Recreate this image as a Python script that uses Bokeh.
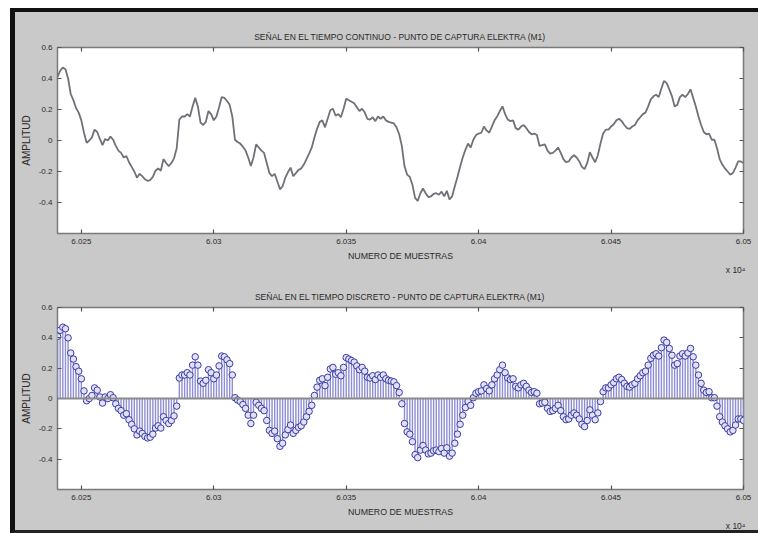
import numpy as np
from bokeh.plotting import figure
from bokeh.models import Range1d, FixedTicker, LinearAxis, Span, Title
from bokeh.layouts import column
from bokeh.embed import file_html
from bokeh.resources import INLINE

# ---------------- data ----------------
first_sample = 60241
amplitude = [
    0.41, 0.45, 0.47, 0.46, 0.40, 0.30, 0.26, 0.21, 0.18, 0.13,
    0.05, -0.015, 0.0, 0.02, 0.07, 0.055, 0.01, -0.03, 0.01, 0.0,
    0.025, 0.005, -0.035, -0.065, -0.08, -0.11, -0.10, -0.14, -0.17, -0.20,
    -0.24, -0.215, -0.23, -0.25, -0.26, -0.255, -0.235, -0.195, -0.18, -0.195,
    -0.12, -0.145, -0.165, -0.145, -0.115,
    -0.05, 0.135, 0.155, 0.155, 0.17, 0.155, 0.22, 0.275, 0.22, 0.115,
    0.10, 0.12, 0.19, 0.17, 0.13, 0.155, 0.215, 0.28, 0.275, 0.255,
    0.23, 0.155, 0.005, -0.01, -0.02, -0.04, -0.065, -0.11, -0.165, -0.11,
    -0.025, -0.045, -0.065, -0.08, -0.145, -0.21, -0.23, -0.215, -0.265, -0.315,
    -0.295, -0.24, -0.205,
    -0.175, -0.23, -0.21, -0.19, -0.18, -0.155, -0.12, -0.085, -0.045, 0.02,
    0.075, 0.12, 0.13, 0.085, 0.14, 0.195, 0.205, 0.16, 0.17, 0.15,
    0.205, 0.27, 0.26, 0.25, 0.24, 0.215, 0.19, 0.205, 0.18, 0.14,
    0.135, 0.15, 0.125, 0.155, 0.14, 0.155, 0.13, 0.12, 0.115, 0.11,
    0.085, 0.04, -0.035,
    -0.165, -0.22, -0.235, -0.285, -0.37, -0.39, -0.34, -0.31, -0.34, -0.365,
    -0.36, -0.345, -0.34, -0.35, -0.33, -0.36, -0.325, -0.38, -0.36, -0.295,
    -0.235, -0.17, -0.11, -0.06, -0.02, -0.045, 0.005, 0.035, 0.045, 0.05,
    0.09, 0.065, 0.05, 0.09, 0.13, 0.155, 0.19, 0.22, 0.17, 0.135,
    0.125, 0.13, 0.08, 0.07,
    0.09, 0.10, 0.08, 0.055, 0.04, 0.045, 0.035, -0.035, -0.03, -0.025,
    -0.065, -0.085, -0.08, -0.065, -0.045, -0.08, -0.12, -0.14, -0.135, -0.11,
    -0.095, -0.11, -0.135, -0.17, -0.185, -0.145, -0.075, -0.11, -0.14, -0.095,
    -0.02, 0.045, 0.07, 0.07, 0.09, 0.105, 0.13, 0.14, 0.125, 0.10,
    0.08, 0.075, 0.09,
    0.10, 0.13, 0.15, 0.17, 0.18, 0.22, 0.265, 0.285, 0.295, 0.28,
    0.335, 0.385, 0.37, 0.33, 0.285, 0.22, 0.23, 0.28, 0.295, 0.28,
    0.30, 0.33, 0.275, 0.22, 0.155, 0.10, 0.055, 0.04, 0.045, 0.005,
    0.005, -0.05, -0.12, -0.155, -0.18, -0.20, -0.22, -0.21, -0.175, -0.135,
    -0.135, -0.145,
]
x_ticks = [60250, 60300, 60350, 60400, 60450, 60500]
x_tick_labels = ["6.025", "6.03", "6.035", "6.04", "6.045", "6.05"]
y_ticks = [-0.4, -0.2, 0, 0.2, 0.4, 0.6]
y_tick_labels = ["-0.4", "-0.2", "0", "0.2", "0.4", "0.6"]
y_limits = [-0.6, 0.6]
title_top = "SEÑAL EN EL TIEMPO CONTINUO - PUNTO DE CAPTURA ELEKTRA (M1)"
title_bottom = "SEÑAL EN EL TIEMPO DISCRETO - PUNTO DE CAPTURA ELEKTRA (M1)"
x_label = "NUMERO DE MUESTRAS"
y_label = "AMPLITUD"
exponent_label = "x 10⁴"

samples = np.arange(first_sample, first_sample + len(amplitude))

# ---------------- style ----------------
FONT = "Liberation Sans"
BG = "#c9c9c9"
TXT = "#2a2a2a"
TICK = "#555555"


def make_fig(title, h, mb_top, mb_bottom, title_standoff):
    p = figure(width=743, height=h, output_backend="svg", toolbar_location=None,
               x_range=Range1d(samples[0], samples[-1]),
               y_range=Range1d(y_limits[0], y_limits[1]),
               min_border_left=42, min_border_right=15,
               min_border_top=mb_top, min_border_bottom=mb_bottom,
               border_fill_color=BG, background_fill_color="white",
               outline_line_color="#7a7a7a", outline_line_width=1.5)
    p.grid.visible = False
    p.title.text = title
    p.title.align = "center"
    p.title.text_font = FONT
    p.title.text_font_size = "8.5px"
    p.title.text_font_style = "normal"
    p.title.text_color = TXT
    p.title.standoff = title_standoff

    xa = p.xaxis[0]
    xa.ticker = FixedTicker(ticks=x_ticks)
    xa.major_label_overrides = dict(zip(x_ticks, x_tick_labels))
    xa.axis_label = x_label
    ya = p.yaxis[0]
    ya.ticker = FixedTicker(ticks=y_ticks)
    ya.major_label_overrides = dict(zip(y_ticks, y_tick_labels))
    ya.axis_label = y_label

    # MATLAB-style box ticks on the top and right (no labels)
    top = LinearAxis(ticker=FixedTicker(ticks=x_ticks),
                     major_label_overrides={t: "" for t in x_ticks})
    right = LinearAxis(ticker=FixedTicker(ticks=y_ticks),
                       major_label_overrides={t: "" for t in y_ticks})
    for ax in (top, right):
        ax.major_label_standoff = 0
        ax.major_label_text_font_size = "8px"
    p.add_layout(top, "above")
    p.add_layout(right, "right")

    for ax in p.axis:
        ax.axis_line_color = None
        ax.major_tick_in = 4
        ax.major_tick_out = 0
        ax.minor_tick_line_color = None
        ax.major_tick_line_color = TICK
        ax.major_tick_line_width = 1.2
        ax.major_label_text_font = FONT
        ax.major_label_text_color = TXT
        ax.axis_label_text_font = FONT
        ax.axis_label_text_font_style = "normal"
        ax.axis_label_text_color = TXT
    for ax in (xa, ya):
        ax.major_label_text_font_size = "8px"
    xa.major_label_standoff = 5
    ya.major_label_standoff = 5
    xa.axis_label_standoff = 4
    ya.axis_label_standoff = 4
    xa.axis_label_text_font_size = "8.8px"
    ya.axis_label_text_font_size = "10px"

    # axis multiplier shown under the right end of the x axis
    p.add_layout(Title(text=exponent_label, align="right", standoff=-1, offset=-2,
                       text_font=FONT, text_font_size="8.5px", text_font_style="normal",
                       text_color=TXT), "below")
    return p


p1 = make_fig(title_top, 262, 35, 41, 12)
p1.line(samples, amplitude, line_color="#707078", line_width=1.8)

p2 = make_fig(title_bottom, 256, 33, 38, 12)
p2.segment(x0=samples, y0=0, x1=samples, y1=amplitude, line_color="#8e8ed2", line_width=1.4)
p2.add_layout(Span(location=0, dimension="width", line_color="#8a8a8a", line_width=2))
p2.scatter(samples, amplitude, marker="circle", size=6.5, fill_color="#e2e2f6",
           line_color="#3a3aa6", line_width=1)

layout = column(p1, p2, styles={
    "margin-left": "10px", "margin-top": "8px",
    "border-left": "5px solid #111111", "border-top": "4px solid #111111",
    "border-bottom": "3px solid #222222", "background-color": BG,
})

open("out.html", "w").write(file_html(layout, INLINE))
